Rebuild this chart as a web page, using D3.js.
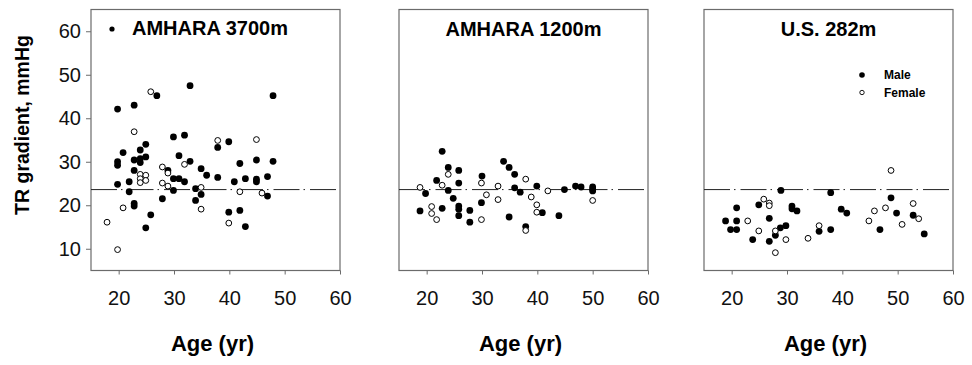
<!DOCTYPE html>
<html>
<head>
<meta charset="utf-8">
<script src="https://cdn.jsdelivr.net/npm/d3@7"></script>
<style>
  body { margin: 0; background: #fff; }
  svg { font-family: "Liberation Sans", Arial, sans-serif; }
</style>
</head>
<body>
<div id="chart"></div>
<script>
// data: [age (yr), TR gradient (mmHg)]
const panelTitles = ["AMHARA 3700m", "AMHARA 1200m", "U.S. 282m"];
const xTicks = [20, 30, 40, 50, 60];
const yTicks = [10, 20, 30, 40, 50, 60];
const refLine = 23.6;

const male3700 = [[19.8,42.1],[19.8,30.0],[19.8,29.2],[19.8,24.8],[20.8,32.1],[21.9,25.4],[21.9,23.1],[22.8,43.0],
  [22.8,30.4],[22.8,28.0],[22.8,20.4],[22.8,19.8],[23.9,32.7],[23.9,30.7],[23.9,29.8],[24.9,34.0],[24.9,31.1],
  [24.9,14.8],[25.8,17.8],[26.9,45.2],[27.9,21.5],[28.9,28.0],[29.9,35.7],[29.9,26.1],[29.9,23.4],[30.9,26.1],
  [30.9,31.4],[31.9,36.1],[31.9,25.4],[32.9,47.5],[32.9,30.1],[33.9,23.8],[33.9,21.1],[34.9,28.4],[34.9,22.5],
  [35.9,26.9],[37.9,33.3],[37.9,26.4],[39.9,34.6],[39.9,18.4],[40.9,25.4],[41.9,29.6],[41.9,18.8],[42.9,26.1],
  [42.9,15.1],[44.9,30.4],[44.9,26.0],[44.9,25.4],[46.9,26.6],[46.9,22.1],[47.9,45.2],[47.9,30.1]];
const female3700 = [[17.9,16.1],[19.8,9.8],[20.8,19.4],[22.8,36.9],[23.9,27.1],[23.9,26.1],[23.9,25.2],[24.9,26.9],
  [24.9,25.7],[25.8,46.1],[27.9,28.8],[27.9,25.1],[28.9,27.4],[28.9,24.4],[31.9,29.4],[34.9,24.1],[34.9,19.1],
  [37.9,34.9],[39.9,15.9],[41.9,23.1],[44.9,35.1],[45.9,22.8]];

const male1200 = [[22.8,32.4],[23.9,28.7],[25.8,28.0],[30.0,26.7],[33.9,30.1],[34.9,28.7],[35.9,27.1],[21.8,25.7],
  [25.8,25.1],[18.8,18.7],[19.8,22.7],[23.9,23.4],[24.8,21.6],[22.8,19.3],[25.8,19.8],[25.8,19.1],[25.8,17.6],
  [27.8,18.8],[27.8,16.1],[29.9,20.6],[34.9,17.3],[35.9,24.0],[36.9,23.0],[37.9,15.1],[39.9,24.4],[40.9,18.3],
  [43.9,17.6],[44.9,23.6],[46.9,24.4],[47.9,24.2],[50.0,24.2],[50.0,23.7],[50.0,23.3]];
const female1200 = [[18.8,24.1],[22.8,24.6],[23.9,27.1],[20.9,19.7],[20.9,18.1],[21.8,16.7],[29.9,25.1],[29.9,16.7],
  [30.8,22.4],[32.9,24.4],[32.9,21.3],[37.9,26.0],[37.9,14.2],[38.9,21.9],[39.9,20.1],[39.9,18.4],[41.9,23.3],
  [50.0,21.1]];

const maleUS = [[18.9,16.4],[19.8,14.4],[20.9,14.4],[20.9,16.4],[20.9,19.4],[23.8,12.1],[24.9,20.1],[26.8,17.0],
  [26.8,11.7],[27.9,13.1],[28.8,14.8],[28.9,23.4],[29.8,15.3],[30.9,19.8],[30.9,19.2],[31.8,18.7],[35.8,14.0],
  [37.9,22.9],[37.9,14.4],[39.8,19.1],[40.8,18.2],[46.8,14.4],[48.8,21.7],[49.8,18.2],[52.8,17.7],[54.8,13.4]];
const femaleUS = [[22.9,16.4],[24.9,14.1],[25.8,21.4],[26.8,20.5],[26.8,19.9],[27.9,14.1],[27.9,9.1],[29.8,12.1],
  [33.8,12.4],[35.8,15.3],[44.8,16.4],[45.8,18.7],[47.8,19.4],[48.8,28.0],[50.8,15.6],[52.8,20.4],[53.8,16.9]];

const panels = [
  {title: panelTitles[0], male: male3700, female: female3700},
  {title: panelTitles[1], male: male1200, female: female1200},
  {title: panelTitles[2], male: maleUS, female: femaleUS}
];

const W = 972, H = 365;
const panelLeft = [91, 399, 704], panelW = 249;
const plotTop = 9.5, plotBottom = 270.5;

const svg = d3.select("#chart").append("svg")
  .attr("width", W).attr("height", H);

const x = d3.scaleLinear().domain([15, 60]).range([0, panelW]);
const y = d3.scaleLinear().domain([5, 65]).range([plotBottom, plotTop]);

panels.forEach((p, i) => {
  const g = svg.append("g").attr("transform", "translate(" + panelLeft[i] + ",0)");

  // frame
  g.append("rect").attr("x", 0).attr("y", plotTop).attr("width", panelW).attr("height", plotBottom - plotTop)
    .attr("fill", "none").attr("stroke", "#6b6b6b").attr("stroke-width", 1.2);

  // x axis
  const xa = g.append("g").attr("transform", "translate(0," + plotBottom + ")")
    .call(d3.axisBottom(x).tickValues(xTicks).tickSizeInner(4).tickSizeOuter(0).tickPadding(16));
  xa.select(".domain").remove();
  xa.selectAll("line").attr("stroke", "#6b6b6b");
  xa.selectAll("text").attr("font-size", 20).attr("fill", "#111")
    .attr("font-family", "Liberation Sans, Arial, sans-serif");

  g.append("text").attr("x", panelW / 2 - 3).attr("y", 351)
    .attr("text-anchor", "middle").attr("font-size", 22).attr("font-weight", "bold")
    .text("Age (yr)");

  // y axis only on the first panel
  if (i === 0) {
    const ya = g.append("g")
      .call(d3.axisLeft(y).tickValues(yTicks).tickSizeInner(5).tickSizeOuter(0).tickPadding(5));
    ya.select(".domain").remove();
    ya.selectAll("line").attr("stroke", "#6b6b6b");
    ya.selectAll("text").attr("font-size", 20).attr("fill", "#111")
      .attr("font-family", "Liberation Sans, Arial, sans-serif");
  }

  // reference line
  g.append("line").attr("x1", 0).attr("x2", panelW)
    .attr("y1", y(refLine)).attr("y2", y(refLine))
    .attr("stroke", "#222").attr("stroke-width", 1)
    .attr("stroke-dasharray", "26,4,1.5,5");

  // points
  g.selectAll(".m").data(p.male).enter().append("circle").attr("class", "m")
    .attr("cx", d => x(d[0])).attr("cy", d => y(d[1])).attr("r", 3.4).attr("fill", "#000");
  g.selectAll(".f").data(p.female).enter().append("circle").attr("class", "f")
    .attr("cx", d => x(d[0])).attr("cy", d => y(d[1])).attr("r", 2.9)
    .attr("fill", "#fff").attr("stroke", "#000").attr("stroke-width", 1);

  // title
  if (i === 0) {
    g.append("circle").attr("cx", 21).attr("cy", 29).attr("r", 2.6).attr("fill", "#000");
    g.append("text").attr("x", 41).attr("y", 35).attr("font-size", 20).attr("font-weight", "bold").text(p.title);
  } else {
    g.append("text").attr("x", panelW / 2).attr("y", 36).attr("text-anchor", "middle")
      .attr("font-size", 20).attr("font-weight", "bold").text(p.title);
  }

  // legend in the U.S. panel
  if (i === 2) {
    const lg = g.append("g").attr("transform", "translate(158,0)");
    lg.append("circle").attr("cx", 0).attr("cy", 75).attr("r", 2.8).attr("fill", "#000");
    lg.append("circle").attr("cx", 0).attr("cy", 92.5).attr("r", 2.2).attr("fill", "#fff")
      .attr("stroke", "#000").attr("stroke-width", 0.9);
    lg.append("text").attr("x", 22).attr("y", 79).attr("font-size", 12).attr("font-weight", "bold").text("Male");
    lg.append("text").attr("x", 22).attr("y", 96.5).attr("font-size", 12).attr("font-weight", "bold").text("Female");
  }
});

// y axis title
svg.append("text").attr("transform", "translate(29,125) rotate(-90)")
  .attr("text-anchor", "middle").attr("font-size", 19.5).attr("font-weight", "bold")
  .text("TR gradient, mmHg");
</script>
</body>
</html>
